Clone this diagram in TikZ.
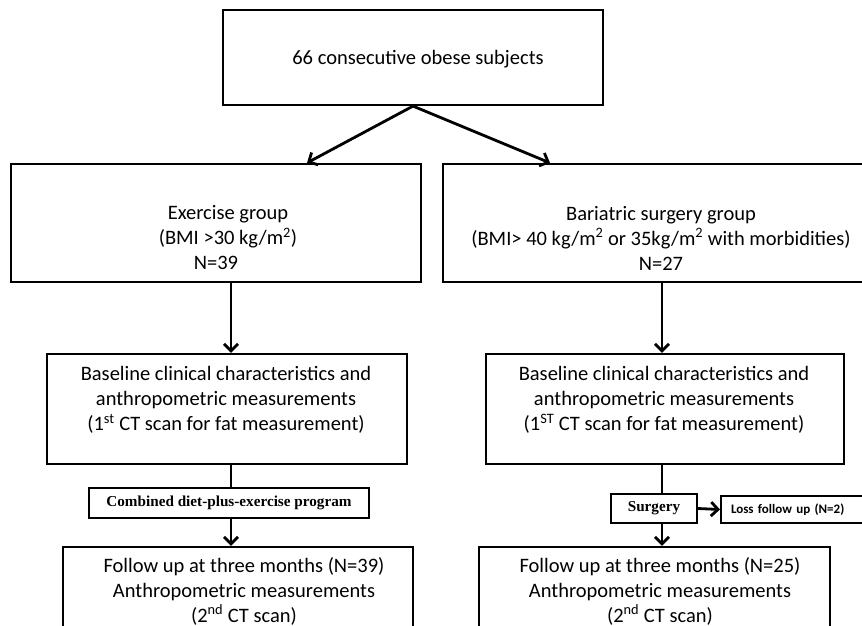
\documentclass[tikz,border=0pt]{standalone}
\usepackage{fontspec}
\setmainfont{Carlito}
\newfontfamily\serifbold{Liberation Serif}
\usetikzlibrary{arrows.meta}

\begin{document}
\begin{tikzpicture}[x=1pt,y=-1pt,
                box/.style={draw,line width=2.2pt,inner sep=0pt},
                txt/.style={align=center,inner sep=0pt,font=\fontsize{20.5}{25}\selectfont},
                tag/.style={draw,line width=2pt,inner sep=0pt,font=\serifbold\bfseries\fontsize{15.2}{18}\selectfont},
                arr/.style={line width=2.8pt,-{Straight Barb[length=7pt,width=14pt]}},
                link/.style={line width=2.8pt}]
                \clip (0,0) rectangle (862,626);
                \coordinate (lcol) at (231,0);
                \coordinate (rcol) at (662,0);

                \node[box,minimum width=380,minimum height=95] (top) at (413,57.5) {};
                \node[txt] (toptxt) at (418,59) {66 consecutive obese subjects};

                \node[box,minimum width=410,minimum height=118] (exer) at (216,223) {};
                \node[txt] (exertxt) at (228,238) {Exercise group\\(BMI >30 kg/m\textsuperscript{2})\\N=39\hspace*{24pt}};
                \node[box,minimum width=427,minimum height=118] (bari) at (656.5,223) {};
                \node[txt] (baritxt) at (661,238) {Bariatric surgery group\\(BMI> 40 kg/m\textsuperscript{2} or 35kg/m\textsuperscript{2} with morbidities)\\N=27};

                \node[box,minimum width=360,minimum height=110] (exerbase) at (227,409) {};
                \node[txt] (exerbasetxt) at (226,400) {Baseline clinical characteristics and\\anthropometric measurements\\(1\textsuperscript{st} CT scan for fat measurement)};
                \node[box,minimum width=358,minimum height=110] (baribase) at (665,409) {};
                \node[txt] (baribasetxt) at (664,400) {Baseline clinical characteristics and\\anthropometric measurements\\(1\textsuperscript{ST} CT scan for fat measurement)};

                \node[tag,minimum width=280,minimum height=30] (diet) at (229,503) {Combined diet-plus-exercise program};
                \node[tag,minimum width=86,minimum height=29] (surgery) at (654,508.5) {Surgery};
                \node[tag,anchor=west,minimum height=27,inner xsep=10pt,text width=130pt,align=left,
                    font=\bfseries\fontsize{13}{15}\selectfont] (loss) at (720,509.5) {Loss follow up (N=2)};

                \node[box,minimum width=350,minimum height=100] (exerfollow) at (238,597) {};
                \node[txt] (exerfollowtxt) at (244,591) {Follow up at three months (N=39)\\Anthropometric measurements\\(2\textsuperscript{nd} CT scan)};
                \node[box,minimum width=351,minimum height=100] (barifollow) at (654.5,597) {};
                \node[txt] (barifollowtxt) at (660,591) {Follow up at three months (N=25)\\Anthropometric measurements\\(2\textsuperscript{nd} CT scan)};

                \draw[arr] (top.south) -- ([xshift=91pt]exer.north);
                \draw[arr] (top.south) -- ([xshift=-106.5pt]bari.north);
                \draw[arr] (exer.south -| lcol) -- (exerbase.north -| lcol);
                \draw[arr] (bari.south -| rcol) -- (baribase.north -| rcol);
                \draw[link] (exerbase.south -| lcol) -- (diet.north -| lcol);
                \draw[arr] (diet.south -| lcol) -- (exerfollow.north -| lcol);
                \draw[link] (baribase.south -| rcol) -- (surgery.north -| rcol);
                \draw[arr] (surgery.south -| rcol) -- (barifollow.north -| rcol);
                \draw[arr] (surgery.east) -- (loss.west);
\end{tikzpicture}
\end{document}
